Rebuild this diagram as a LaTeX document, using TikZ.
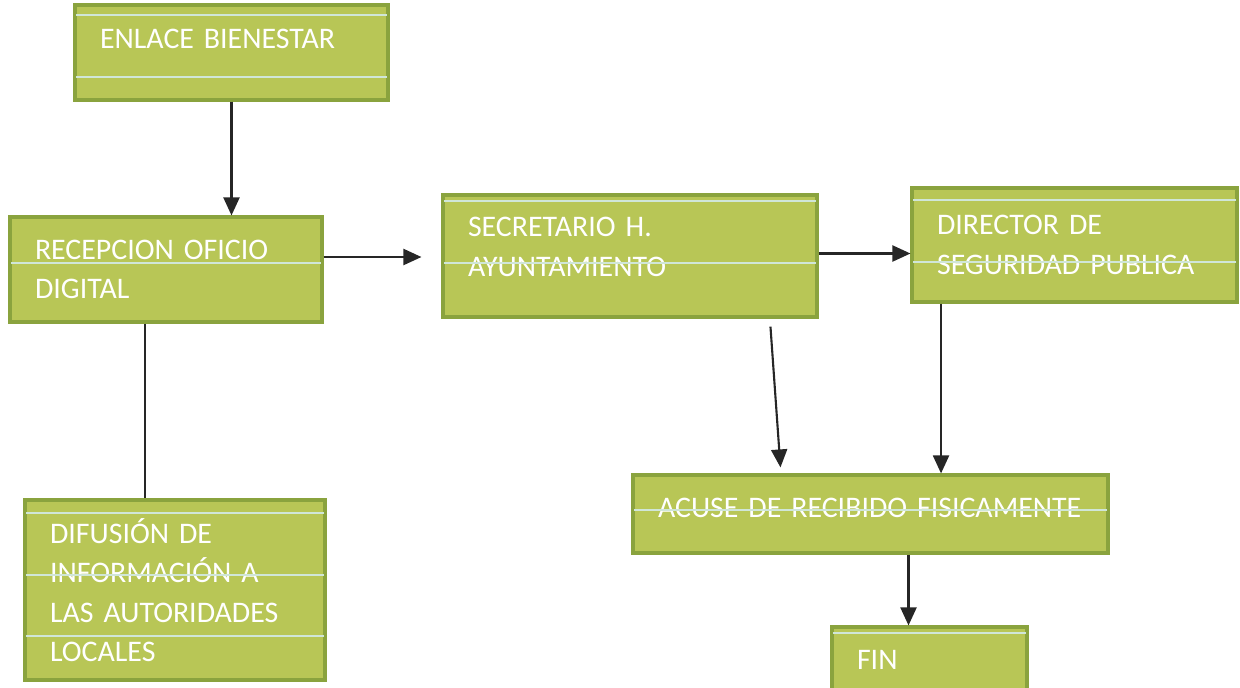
\documentclass[tikz,border=0pt]{standalone}
\usepackage{fontspec}
\setmainfont{Carlito}
\usetikzlibrary{positioning,arrows.meta}
\definecolor{verdecaja}{RGB}{184,198,86}
\definecolor{bordecaja}{RGB}{138,163,62}
\definecolor{rigachiara}{RGB}{208,230,216}

\begin{document}
\begin{tikzpicture}[x=0.02cm,y=-0.02cm]
% definizione stile delle caselle
\tikzset{casella/.style={rectangle,draw=bordecaja,line width=1.8pt,fill=verdecaja,text=white,
  align=left,inner xsep=0.5cm,text width=#1,font=\fontsize{17}{22.5}\selectfont}}
% definizione frecce e righe chiare
\tikzset{freccia/.style={-{Triangle[length=0.36cm,width=0.32cm]},line width=1.2pt,draw=black!85}}
\tikzset{rigo/.style={draw=rigachiara,line width=1.2pt,shorten <=1.5pt,shorten >=1.5pt}}

\useasboundingbox (0,0) rectangle (1240,687);

%----
% inserimento caselle
\node[casella=5.26cm,minimum height=1.9cm,text depth=0.56cm] (enlace) at (231.5,52.5) {ENLACE BIENESTAR};
\node[casella=5.24cm,minimum height=2.1cm] (recepcion) at (166,269.5) {RECEPCION OFICIO\\DIGITAL};
\node[casella=6.48cm,minimum height=2.44cm,text depth=1.15cm] (secretario) at (630,256) {SECRETARIO H.\\AYUNTAMIENTO};
\node[casella=5.5cm,minimum height=2.28cm] (director) at (1074.5,245) {DIRECTOR DE\\SEGURIDAD PUBLICA};
\node[casella=5cm,minimum height=3.6cm] (difusion) at (175,590) {DIFUSIÓN DE\\INFORMACIÓN A\\LAS AUTORIDADES\\LOCALES};
\node[casella=8.5cm,minimum height=1.56cm,text depth=0.24cm] (acuse) at (870.5,514) {ACUSE DE RECIBIDO FISICAMENTE};
\node[casella=2.9cm,minimum height=1.3cm] (fin) at (929.5,659.5) {FIN};

% inserimento righe chiare nelle caselle
\foreach \n/\y in {enlace/15,enlace/77,recepcion/263,secretario/201,secretario/263,
  director/200,director/262,difusion/513,difusion/575,difusion/636,acuse/510,fin/633}
\draw[rigo] (\n.west |- 0,\y) -- (\n.east |- 0,\y);

% inserimento frecce
\draw[freccia] (enlace.south) -- (enlace.south |- recepcion.north);
\draw[freccia] ([yshift=0.25cm]recepcion.east) -- ([xshift=-0.4cm,yshift=0.25cm]recepcion.east -| secretario.west);
\draw[freccia] ([yshift=0.05cm]secretario.east) -- ([yshift=0.05cm]secretario.east -| director.west);
\draw[freccia] ([shift={(329,8)}]secretario.south west) -- ([shift={(149,-6)}]acuse.north west);
\draw[freccia] ([xshift=-2.67cm]director.south) -- ([xshift=-2.67cm]director.south |- acuse.north);
\draw[freccia] ([xshift=-0.42cm]fin.north |- acuse.south) -- ([xshift=-0.42cm]fin.north);

% inserimento linea senza freccia
\draw[line width=1.2pt,draw=black!85] ([xshift=-0.42cm]recepcion.south) -- ([xshift=-0.42cm]recepcion.south |- difusion.north);
\end{tikzpicture}
\end{document}
